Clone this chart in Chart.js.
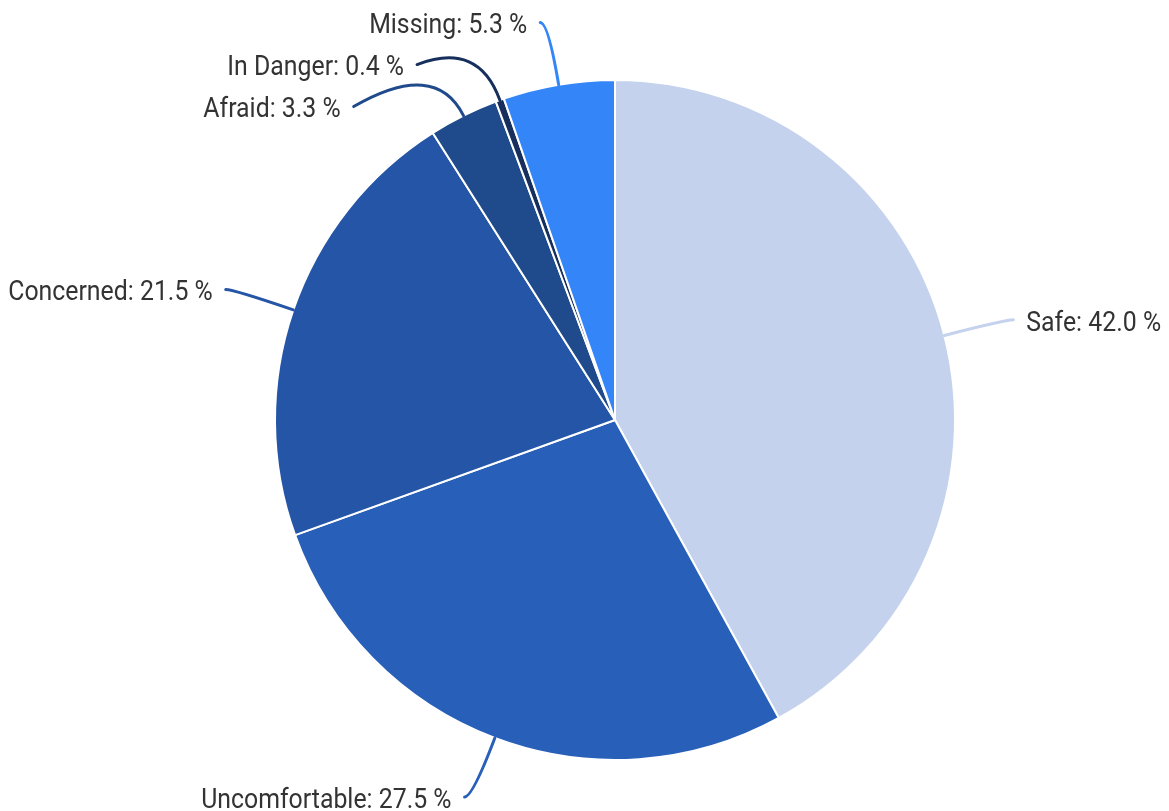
<!DOCTYPE html>
<html>
<head>
<meta charset="utf-8">
<script src="https://cdn.jsdelivr.net/npm/chart.js@4/dist/chart.umd.min.js"></script>
<style>
html,body{margin:0;padding:0;background:#fff;}
#wrap{width:1169px;height:811px;position:relative;}
</style>
</head>
<body>
<div id="wrap"><canvas id="c" width="1169" height="811"></canvas></div>
<script>
const categories = ["Safe", "Uncomfortable", "Concerned", "Afraid", "In Danger", "Missing"];
const values = [42.0, 27.5, 21.5, 3.3, 0.4, 5.3];
const colors = ["#c4d2ed", "#285fb8", "#2455a6", "#1f4a8b", "#162f5c", "#3486f8"];

const FONT_SIZE = 27;
const H_SCALE = 0.92;
const TEXT_COLOR = "#333333";

const leaderPlugin = {
  id: "leaders",
  afterDatasetsDraw(chart) {
    const ctx = chart.ctx;
    const meta = chart.getDatasetMeta(0);
    const items = [];
    meta.data.forEach((arc, i) => {
      const p = arc.getProps(["x", "y", "startAngle", "endAngle", "outerRadius"], true);
      const mid = (p.startAngle + p.endAngle) / 2;
      const dx = Math.cos(mid), dy = Math.sin(mid);
      const r = p.outerRadius;
      const r2 = r + 63;
      items.push({
        i, cx: p.x, cy: p.y, r2,
        dir: dx < 0 ? -1 : 1,
        p1: [p.x + r * dx, p.y + r * dy],
        p2: [p.x + r2 * dx, p.y + r2 * dy],
        y: p.y + r2 * dy,
        text: categories[i] + ": " + values[i].toFixed(1) + " %"
      });
    });
    const gapH = 42;
    [-1, 1].forEach(side => {
      const list = items.filter(it => it.dir === side).sort((a, b) => a.y - b.y);
      for (let k = 1; k < list.length; k++) {
        if (list[k].y < list[k - 1].y + gapH) list[k].y = list[k - 1].y + gapH;
      }
    });
    items.forEach(it => {
      const dyv = it.y - it.cy;
      let x3;
      if (Math.abs(it.y - it.p2[1]) > 0.5 && Math.abs(dyv) < it.r2) {
        x3 = it.cx + it.dir * Math.sqrt(it.r2 * it.r2 - dyv * dyv);
      } else {
        x3 = it.p2[0];
      }
      it.p3 = [x3 + it.dir * 8, it.y];
    });
    ctx.save();
    items.forEach(it => {
      ctx.strokeStyle = colors[it.i];
      ctx.lineWidth = 3;
      ctx.lineCap = "round";
      ctx.beginPath();
      ctx.moveTo(it.p1[0], it.p1[1]);
      ctx.quadraticCurveTo(it.p2[0], it.p2[1], it.p3[0], it.p3[1]);
      ctx.stroke();
    });
    ctx.fillStyle = TEXT_COLOR;
    ctx.font = FONT_SIZE + "px Roboto, 'Noto Sans', sans-serif";
    ctx.textBaseline = "middle";
    items.forEach(it => {
      ctx.save();
      const tx = it.p3[0] + it.dir * 13;
      ctx.translate(tx, it.y + 4);
      ctx.scale(H_SCALE, 1);
      ctx.textAlign = it.dir < 0 ? "right" : "left";
      ctx.fillText(it.text, 0, 0);
      ctx.restore();
    });
    ctx.restore();
  }
};

new Chart(document.getElementById("c"), {
  type: "pie",
  data: {
    labels: categories,
    datasets: [{
      data: values,
      backgroundColor: colors,
      borderColor: "#ffffff",
      borderWidth: 2,
      hoverOffset: 0
    }]
  },
  options: {
    responsive: false,
    animation: false,
    radius: 340,
    layout: { padding: { top: 80, bottom: 51, left: 61, right: 0 } },
    plugins: { legend: { display: false }, tooltip: { enabled: false } }
  },
  plugins: [leaderPlugin]
});
</script>
</body>
</html>
